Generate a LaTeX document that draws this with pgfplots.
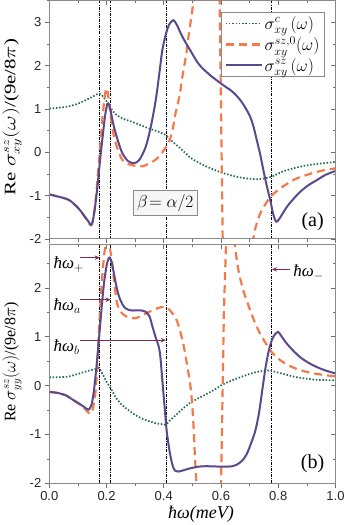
\documentclass[border=0pt]{standalone}
\usepackage{fontspec}
\setmainfont{Liberation Serif}
\setsansfont{Liberation Sans}
\usepackage{pgfplots}
\pgfplotsset{compat=1.18}
\usetikzlibrary{arrows.meta}

\definecolor{cgreen}{HTML}{1D6B4F}
\definecolor{corange}{HTML}{F47A4A}
\definecolor{cpurple}{HTML}{5A4A8C}
\definecolor{carrow}{HTML}{7A2E50}
\definecolor{caxis}{HTML}{8A8A8A}

\tikzset{
  arr/.style={carrow, line width=1.4pt, -{Stealth[length=5pt,width=4.5pt]}},
}
\newcommand{\hw}{\textit{ħω}}
\pgfplotsset{
  panel/.style={
    scale only axis, width=286.2pt,
    xmin=0, xmax=1, ymin=-2,
    axis line style={caxis, line width=1pt},
    tick style={caxis!80!black, line width=0.7pt},
    major tick length=4.5pt, minor tick length=2.6pt,
    xtick={0,0.2,0.4,0.6,0.8,1.0},
    minor xtick={0.1,0.3,0.5,0.7,0.9},
    tick label style={font=\fontsize{13}{13}\sffamily, text=black!85},
  },
  mirror/.style={panel, tick pos=right, tick align=inside,
    xticklabels={}, yticklabels={}},
  greenline/.style={cgreen, line width=1.7pt, dash pattern=on 1.5pt off 1.8pt},
  orangeline/.style={corange, line width=2.2pt, dash pattern=on 8pt off 5pt},
  purpleline/.style={cpurple, line width=2pt},
  vline/.style={black, line width=0.55pt, dash pattern=on 3pt off 1.2pt on 0.8pt off 1.2pt},
}

\begin{document}
\begin{tikzpicture}
\path[use as bounding box] (0,0) rectangle (346pt,-525pt);

% ---------- panel (a) ----------
\begin{axis}[panel, at={(49.3pt,-0.7pt)}, anchor=north west, height=238.3pt,
    ymax=3.5, tick pos=left, tick align=outside,
    ytick={-2,-1,0,1,2,3}, minor ytick={-1.5,-0.5,0.5,1.5,2.5,3.5},
    yticklabels={-2,-1,0,1,2,3}, xticklabels={},
    legend style={at={(0.963,0.953)}, anchor=north east, draw=caxis,
      line width=0.8pt, fill=white, font=\fontsize{17}{21}\selectfont,
      cells={anchor=west}, row sep=2pt, inner xsep=3pt, inner ysep=2pt},
    legend image code/.code={\draw[#1] (0pt,0pt) -- (36pt,0pt);},
]
\addplot[vline, forget plot] coordinates {(0.174,-2) (0.174,3.5)};
\addplot[vline, forget plot] coordinates {(0.212,-2) (0.212,3.5)};
\addplot[vline, forget plot] coordinates {(0.408,-2) (0.408,3.5)};
\addplot[vline, forget plot] coordinates {(0.774,-2) (0.774,3.5)};

\addplot[greenline, smooth, tension=0.5] coordinates {
 (0,1.01) (0.058,1.05) (0.1,1.12) (0.116,1.17) (0.151,1.28) (0.174,1.36)
 (0.19,1.27) (0.197,1.21) (0.215,1.02) (0.232,0.88) (0.26,0.77) (0.291,0.70)
 (0.349,0.55) (0.38,0.48) (0.407,0.40) (0.43,0.25) (0.465,0.05) (0.492,-0.12)
 (0.517,-0.22) (0.55,-0.33) (0.608,-0.48) (0.667,-0.58) (0.725,-0.62)
 (0.774,-0.57) (0.80,-0.49) (0.83,-0.41) (0.9,-0.30) (1.0,-0.22)};
\addlegendentry{$\sigma^{c}_{xy}\,(\omega)$}

\addplot[orangeline, smooth, tension=0.5] coordinates {
 (0,-0.97) (0.03,-1.02) (0.069,-1.10) (0.1,-1.28) (0.116,-1.41) (0.135,-1.60)
 (0.145,-1.68) (0.153,-1.55) (0.162,-1.1) (0.174,-0.18) (0.185,0.74)
 (0.193,1.25) (0.199,1.48) (0.205,1.35) (0.212,0.95) (0.22,0.6) (0.226,0.36)
 (0.24,0.05) (0.256,-0.18) (0.275,-0.27) (0.291,-0.30) (0.326,-0.32)
 (0.36,-0.22) (0.38,-0.12) (0.395,0.0) (0.418,0.24) (0.43,0.5) (0.441,0.9)
 (0.455,1.3) (0.465,1.74) (0.478,2.25) (0.488,2.75) (0.497,3.15) (0.506,3.6)};
\addlegendentry{$\sigma^{sz,0}_{xy}(\omega)$}

\addplot[orangeline, forget plot] coordinates {(0.595,3.6) (0.606,-2.1)};
\addplot[orangeline, smooth, tension=0.5, forget plot] coordinates {
 (0.71,-2.1) (0.72,-1.75) (0.737,-1.41) (0.755,-1.2) (0.772,-1.03)
 (0.79,-0.92) (0.807,-0.83) (0.835,-0.71) (0.865,-0.60) (0.9,-0.52)
 (0.935,-0.45) (0.97,-0.40) (1.0,-0.37)};

\addplot[purpleline, smooth, tension=0.5] coordinates {
 (0,-0.97) (0.03,-1.02) (0.069,-1.10) (0.1,-1.28) (0.116,-1.41) (0.135,-1.58)
 (0.148,-1.67) (0.158,-1.35) (0.168,-0.80) (0.177,-0.2) (0.185,0.28)
 (0.195,0.85) (0.203,1.12) (0.209,1.10) (0.214,0.97) (0.222,0.70)
 (0.232,0.44) (0.244,0.18) (0.256,-0.03) (0.275,-0.20) (0.296,-0.25)
 (0.315,-0.17) (0.337,0.13) (0.355,0.6) (0.372,1.21) (0.385,1.85)
 (0.395,2.36) (0.407,2.72) (0.418,2.94) (0.433,3.05) (0.445,2.95)
 (0.465,2.67) (0.492,2.36) (0.523,2.03) (0.562,1.78) (0.608,1.55)
 (0.64,1.40) (0.667,1.21) (0.685,1.03) (0.702,0.82) (0.714,0.58)
 (0.725,0.28) (0.737,-0.05) (0.748,-0.41) (0.760,-0.78) (0.772,-1.10)
 (0.782,-1.42) (0.793,-1.60) (0.805,-1.52) (0.830,-1.26) (0.855,-1.06)
 (0.877,-0.91) (0.905,-0.76) (0.935,-0.64) (0.965,-0.52) (1.0,-0.43)};
\addlegendentry{$\sigma^{sz}_{xy}\,(\omega)$}

\node[draw=caxis, line width=0.8pt, fill=gray!7, inner xsep=4pt, inner ysep=4pt,
  font=\fontsize{17}{20}\selectfont] at (axis cs:0.405,-1.17) {$\beta\!=\alpha/2$};
\node[font=\fontsize{20}{24}\selectfont] at (axis cs:0.92,-1.6) {(a)};
\end{axis}
\begin{axis}[mirror, at={(49.3pt,-0.7pt)}, anchor=north west, height=238.3pt,
    ymax=3.5, ytick={-2,-1,0,1,2,3}, minor ytick={-1.5,-0.5,0.5,1.5,2.5,3.5}]
\end{axis}

% ---------- panel (b) ----------
\begin{axis}[panel, at={(49.3pt,-244pt)}, anchor=north west, height=239.3pt,
    ymax=2.9, tick pos=left, tick align=outside,
    ytick={-2,-1,0,1,2}, minor ytick={-1.5,-0.5,0.5,1.5,2.5},
    yticklabels={-2,-1,0,1,2},
    xticklabels={0.0,0.2,0.4,0.6,0.8,1.0},
]
\addplot[vline] coordinates {(0.174,-2) (0.174,2.9)};
\addplot[vline] coordinates {(0.212,-2) (0.212,2.9)};
\addplot[vline] coordinates {(0.408,-2) (0.408,2.9)};
\addplot[vline] coordinates {(0.774,-2) (0.774,2.9)};

\addplot[greenline, smooth, tension=0.5] coordinates {
 (0,0.17) (0.06,0.18) (0.1,0.24) (0.14,0.31) (0.162,0.34) (0.174,0.36)
 (0.185,0.25) (0.2,0.08) (0.215,-0.06) (0.232,-0.24) (0.255,-0.40)
 (0.279,-0.51) (0.30,-0.60) (0.326,-0.68) (0.35,-0.73) (0.372,-0.77)
 (0.395,-0.79) (0.407,-0.80) (0.42,-0.72) (0.441,-0.61) (0.465,-0.48)
 (0.488,-0.37) (0.52,-0.26) (0.55,-0.17) (0.58,-0.07) (0.608,0.03)
 (0.64,0.11) (0.667,0.17) (0.70,0.24) (0.725,0.28) (0.75,0.30) (0.77,0.31)
 (0.79,0.28) (0.818,0.24) (0.85,0.19) (0.877,0.16) (0.935,0.12) (1.0,0.11)};

\addplot[orangeline, smooth, tension=0.5] coordinates {
 (0,-0.13) (0.03,-0.15) (0.058,-0.20) (0.085,-0.30) (0.105,-0.38)
 (0.125,-0.48) (0.144,-0.58) (0.153,-0.45) (0.162,-0.1) (0.168,0.45)
 (0.174,1.2) (0.182,2.0) (0.191,2.64) (0.198,2.92) (0.203,3.0) (0.209,2.9)
 (0.215,2.7) (0.22,2.5) (0.228,2.05) (0.237,1.68) (0.248,1.53) (0.26,1.45)
 (0.28,1.39) (0.302,1.38) (0.325,1.44) (0.349,1.51) (0.38,1.59) (0.40,1.61)
 (0.415,1.58) (0.43,1.48) (0.445,1.34) (0.457,1.12) (0.468,0.86) (0.48,0.48)
 (0.492,0.04) (0.498,-0.3) (0.503,-0.72) (0.509,-1.47) (0.515,-2.1)};
\addplot[orangeline] coordinates {(0.600,-2.1) (0.605,-0.3) (0.61,1.5) (0.618,3.0)};
\addplot[orangeline, smooth, tension=0.5] coordinates {
 (0.645,3.0) (0.661,2.36) (0.678,1.95) (0.702,1.54) (0.72,1.27) (0.737,1.06)
 (0.755,0.88) (0.772,0.72) (0.79,0.61) (0.807,0.52) (0.835,0.42)
 (0.865,0.34) (0.9,0.28) (0.935,0.24) (0.97,0.21) (1.0,0.19)};

\addplot[purpleline, smooth, tension=0.5] coordinates {
 (0,-0.13) (0.03,-0.15) (0.058,-0.20) (0.085,-0.30) (0.105,-0.37)
 (0.125,-0.45) (0.138,-0.49) (0.148,-0.38) (0.156,-0.10) (0.165,0.4)
 (0.174,0.99) (0.183,1.6) (0.191,2.09) (0.2,2.45) (0.207,2.6) (0.212,2.62)
 (0.218,2.52) (0.226,2.29) (0.235,2.02) (0.244,1.82) (0.255,1.67)
 (0.267,1.58) (0.285,1.54) (0.302,1.54) (0.32,1.54) (0.337,1.51) (0.35,1.42)
 (0.36,1.22) (0.372,0.98) (0.38,0.85) (0.387,0.65) (0.393,0.25) (0.399,-0.17)
 (0.405,-0.58) (0.41,-0.92) (0.416,-1.18) (0.422,-1.40) (0.43,-1.62)
 (0.439,-1.74) (0.45,-1.76) (0.465,-1.74) (0.488,-1.70) (0.52,-1.66)
 (0.55,-1.65) (0.608,-1.66) (0.64,-1.65) (0.655,-1.62) (0.675,-1.53)
 (0.69,-1.40) (0.705,-1.18) (0.72,-0.92) (0.733,-0.55) (0.744,-0.10)
 (0.755,0.35) (0.767,0.72) (0.777,0.92) (0.785,1.02) (0.799,1.10)
 (0.815,0.98) (0.830,0.86) (0.855,0.70) (0.877,0.58) (0.905,0.47)
 (0.935,0.38) (0.965,0.31) (1.0,0.25)};

\draw[arr] (axis cs:0.107,2.62) -- (axis cs:0.176,2.62);
\draw[arr] (axis cs:0.107,1.76) -- (axis cs:0.214,1.76);
\draw[arr] (axis cs:0.107,0.93) -- (axis cs:0.407,0.93);
\draw[arr] (axis cs:0.842,2.38) -- (axis cs:0.778,2.38);
\node[anchor=base west, font=\fontsize{17}{20}\selectfont, inner sep=0pt]
  at (axis cs:0.014,2.40) {\hw$_{+}$};
\node[anchor=base west, font=\fontsize{17}{20}\selectfont, inner sep=0pt]
  at (axis cs:0.014,1.54) {\hw$_{a}$};
\node[anchor=base west, font=\fontsize{17}{20}\selectfont, inner sep=0pt]
  at (axis cs:0.014,0.69) {\hw$_{b}$};
\node[anchor=base west, font=\fontsize{17}{20}\selectfont, inner sep=0pt]
  at (axis cs:0.852,2.23) {\hw$_{-}$};
\node[font=\fontsize{20}{24}\selectfont] at (axis cs:0.92,-1.6) {(b)};
\end{axis}
\begin{axis}[mirror, at={(49.3pt,-244pt)}, anchor=north west, height=239.3pt,
    ymax=2.9, ytick={-2,-1,0,1,2}, minor ytick={-1.5,-0.5,0.5,1.5,2.5}]
\end{axis}

% ---------- axis titles ----------
\node[rotate=90, font=\fontsize{16}{18}\selectfont] at (12pt,-117pt)
  {\scalebox{1.3}[1]{Re $\sigma^{sz}_{xy}(\omega)$/(9e/8$\pi$)}};
\node[rotate=90, font=\fontsize{16}{18}\selectfont] at (12pt,-362pt)
  {Re $\sigma^{sz}_{yy}(\omega)$/(9e/8$\pi$)};
\node[font=\fontsize{18}{20}\selectfont] at (201pt,-514pt) {\hw\textit{(meV)}};
\end{tikzpicture}
\end{document}
